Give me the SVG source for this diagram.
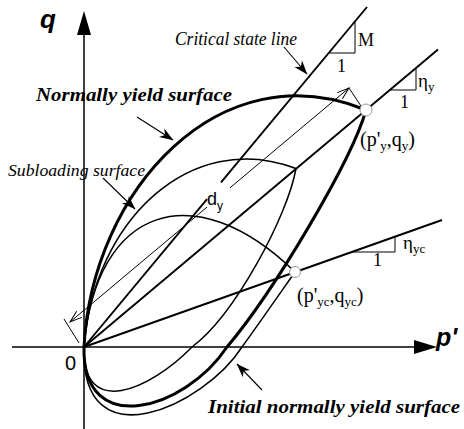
<svg xmlns="http://www.w3.org/2000/svg" width="464" height="429" viewBox="0 0 464 429">
<style>
.ax{stroke:#000;stroke-width:1.5;fill:none}
.rad{stroke:#000;stroke-width:1.9;fill:none}
.thin{stroke:#000;stroke-width:1;fill:none}
.surf{stroke:#000;stroke-width:1.5;fill:none}
.nys{stroke:#000;stroke-width:3;fill:none}
.call{stroke:#000;stroke-width:1.1;fill:none;marker-end:url(#barb)}
.serif{font-family:"Liberation Serif","Times New Roman",serif;fill:#000}
.sans{font-family:"Liberation Sans",Arial,sans-serif;fill:#000}
.pt{fill:#fff;stroke:#999;stroke-width:1}
</style>
<defs>
<marker id="barb" viewBox="0 0 14 10" refX="13.5" refY="5" markerWidth="14" markerHeight="10" markerUnits="userSpaceOnUse" orient="auto" overflow="visible"><path d="M0,0 L14,5 L0,10 L4,5 Z" fill="#000"/></marker>
<marker id="open" viewBox="0 0 12 8" refX="12" refY="4" markerWidth="12" markerHeight="8" markerUnits="userSpaceOnUse" orient="auto-start-reverse" overflow="visible"><path d="M0,0 L12,4 L0,8" fill="none" stroke="#000" stroke-width="1"/></marker>
</defs>
<rect width="464" height="429" fill="#fff"/>

<g id="axes">
<line class="ax" x1="84" y1="429" x2="84" y2="32"/>
<polygon points="84,11 77,35 91,35" fill="#000"/>
<line class="ax" x1="12" y1="347" x2="416" y2="347"/>
<polygon points="437,347 414,340 414,354" fill="#000"/>
<text class="sans" x="40" y="28" font-size="26" font-weight="bold" font-style="italic">q</text>
<text class="sans" x="436" y="346" font-size="25" font-weight="bold" font-style="italic">p'</text>
<text class="sans" x="65" y="370" font-size="20">0</text>
</g>

<g id="surfaces">
<path id="initial-surface" class="surf" d="M84,347 C96,205 195,175 295,272 C283,289 256,328 242,347 C205,405 80,465 84,347"/>
<path id="subloading-surface" class="surf" d="M84,347 C93,222 190,128 296,168.5 C288,215 235,315 192,347 C150,390 82,420 84,347"/>
<path id="normal-surface" class="nys" d="M84,347 C92,190 220,50 366,110 C352,160 275,290 227,347 C185,410 82,440 84,347"/>
</g>

<g id="connectors">
<!-- critical state line -->
<line class="rad" x1="84" y1="347" x2="207" y2="199.2"/>
<line class="rad" x1="221" y1="182.4" x2="367" y2="7"/>
<polyline class="thin" points="329,53 355,53 355,21.5"/>
<!-- eta_y line -->
<line class="rad" x1="84" y1="347" x2="438" y2="49.5"/>
<polyline class="thin" points="390,90 416,90 416,68"/>
<!-- eta_yc line -->
<line class="rad" x1="84" y1="347" x2="442" y2="220" stroke-width="1.6"/>
<polyline class="thin" points="352,252 395,252 395,236.7"/>
<!-- d_y dimension -->
<line class="thin" x1="70" y1="322" x2="207" y2="207.1" marker-start="url(#open)"/>
<line class="thin" x1="230" y1="187.8" x2="349" y2="88" marker-end="url(#open)"/>
<line class="thin" x1="64" y1="319" x2="79" y2="343"/>
<line class="thin" x1="349" y1="88" x2="361" y2="106"/>
<!-- callouts -->
<line class="call" x1="284" y1="47" x2="307" y2="74"/>
<line class="call" x1="137" y1="117" x2="173" y2="140"/>
<line class="call" x1="103" y1="178" x2="135" y2="209"/>
<line class="call" x1="262" y1="390" x2="237" y2="364"/>
</g>

<g id="point-y">
<circle class="pt" cx="366" cy="110" r="6"/>
<text class="serif" x="360" y="146" font-size="20">(p'<tspan font-size="13" dy="4">y</tspan><tspan dy="-4">,q</tspan><tspan font-size="13" dy="4">y</tspan><tspan dy="-4">)</tspan></text>
</g>
<g id="point-yc">
<circle class="pt" cx="295" cy="272" r="5.5"/>
<text class="serif" x="297" y="302" font-size="20">(p'<tspan font-size="13" dy="4">yc</tspan><tspan dy="-4">,q</tspan><tspan font-size="13" dy="4">yc</tspan><tspan dy="-4">)</tspan></text>
</g>

<g id="labels">
<text class="serif" x="175" y="45" font-size="18" font-style="italic" textLength="122" lengthAdjust="spacingAndGlyphs">Critical state line</text>
<text class="serif" x="36" y="101" font-size="19" font-style="italic" font-weight="bold" textLength="196" lengthAdjust="spacingAndGlyphs">Normally yield surface</text>
<text class="serif" x="8" y="176" font-size="17" font-style="italic" textLength="137" lengthAdjust="spacingAndGlyphs">Subloading surface</text>
<text class="serif" x="208" y="413" font-size="19.5" font-style="italic" font-weight="bold" textLength="252" lengthAdjust="spacingAndGlyphs">Initial normally yield surface</text>
<text class="serif" x="358" y="46" font-size="18">M</text>
<text class="serif" x="337" y="72" font-size="18">1</text>
<text class="serif" x="418" y="87" font-size="19">η<tspan font-size="13" dy="4">y</tspan></text>
<text class="serif" x="400" y="108" font-size="18">1</text>
<text class="serif" x="403" y="249" font-size="19">η<tspan font-size="13" dy="4">yc</tspan></text>
<text class="serif" x="373" y="266" font-size="18">1</text>
<text class="sans" x="207" y="205" font-size="18">d<tspan font-size="12" dy="5">y</tspan></text>
</g>
</svg>
